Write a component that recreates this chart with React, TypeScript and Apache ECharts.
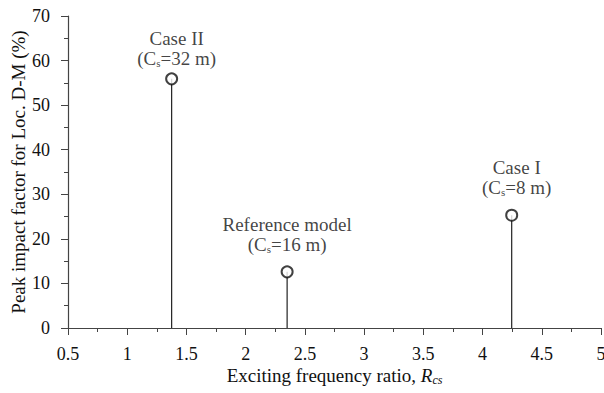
import React, { useEffect, useRef } from "react";
import * as echarts from "echarts";

const caseNames = ["Case II", "Reference model", "Case I"];
const csValues = [32, 16, 8];
const freqRatios = [1.375, 2.35, 4.246];
const impactFactors = [55.9, 12.6, 25.3];

const xTicks = { min: 0.5, max: 5, interval: 0.5 };
const yTicks = { min: 0, max: 70, interval: 10 };

// layout only (label offsets in px)
const labelOffsets = [
  [5, 2],
  [0, -5],
  [5, -5],
];

const FONT = "'Liberation Serif', 'Times New Roman', serif";
const INK = "#111";
const AXIS = "#444";

export default function App() {
  const ref = useRef<HTMLDivElement>(null);
  useEffect(() => {
    const chart = echarts.init(ref.current!, null, { renderer: "svg" });
    const stems = freqRatios.map((x, i) => ({
      type: "line",
      data: [
        [x, 0],
        [x, impactFactors[i]],
      ],
      symbol: "none",
      lineStyle: { color: "#222", width: 1.2 },
      silent: true,
      z: 1,
    }));
    chart.setOption({
      animation: false,
      grid: {
        left: 68,
        top: 16,
        right: 3,
        bottom: 65,
        containLabel: false,
        outerBoundsMode: "none",
      },
      xAxis: {
        type: "value",
        min: xTicks.min,
        max: xTicks.max,
        interval: xTicks.interval,
        axisLine: { lineStyle: { color: AXIS, width: 1.2 } },
        axisTick: { show: true, length: 7, lineStyle: { color: AXIS } },
        minorTick: { show: true, splitNumber: 2, length: 4, lineStyle: { color: AXIS } },
        splitLine: { show: false },
        axisLabel: { fontFamily: FONT, fontSize: 18, color: INK, margin: 17 },
        name: "{n|Exciting frequency ratio, }{i|R}{sub|cs}",
        nameLocation: "middle",
        nameGap: 36,
        nameMoveOverlap: false,
        nameTextStyle: {
          rich: {
            n: { fontFamily: FONT, fontSize: 19, color: INK, lineHeight: 22 },
            i: { fontFamily: FONT, fontSize: 19, color: INK, fontStyle: "italic", lineHeight: 22 },
            sub: {
              fontFamily: FONT,
              fontSize: 12,
              color: INK,
              fontStyle: "italic",
              verticalAlign: "bottom",
              lineHeight: 22,
              padding: [9, 0, 0, 0],
            },
          },
        },
      },
      yAxis: {
        type: "value",
        min: yTicks.min,
        max: yTicks.max,
        interval: yTicks.interval,
        axisLine: { show: true, lineStyle: { color: AXIS, width: 1.2 } },
        axisTick: { show: true, length: 7, lineStyle: { color: AXIS } },
        minorTick: { show: true, splitNumber: 2, length: 4, lineStyle: { color: AXIS } },
        splitLine: { show: false },
        axisLabel: { fontFamily: FONT, fontSize: 18, color: INK, margin: 18 },
        name: "Peak impact factor for Loc. D-M (%)",
        nameLocation: "middle",
        nameGap: 40,
        nameMoveOverlap: false,
        nameTextStyle: { fontFamily: FONT, fontSize: 19, color: INK },
      },
      series: [
        ...stems,
        {
          type: "scatter",
          data: freqRatios.map((x, i) => ({
            value: [x, impactFactors[i]],
            label: { offset: labelOffsets[i] },
          })),
          symbol: "emptyCircle",
          symbolSize: 11,
          itemStyle: { color: "#111", borderColor: "#111", borderWidth: 1.5 },
          z: 3,
          label: {
            show: true,
            position: "top",
            distance: 6,
            align: "center",
            formatter: (p: any) =>
              `{n|${caseNames[p.dataIndex]}}\n{n|(C}{s|s}{n|=${csValues[p.dataIndex]} m)}`,
            rich: {
              n: { fontFamily: FONT, fontSize: 19, color: INK, lineHeight: 20, align: "center" },
              s: {
                fontFamily: FONT,
                fontSize: 11,
                color: INK,
                lineHeight: 20,
                verticalAlign: "bottom",
                padding: [9, 0, 0, 0],
              },
            },
          },
        },
      ],
    });
    return () => chart.dispose();
  }, []);
  return (
    <div
      ref={ref}
      style={{ position: "absolute", left: 0, top: 0, width: 604, height: 393 }}
    />
  );
}
